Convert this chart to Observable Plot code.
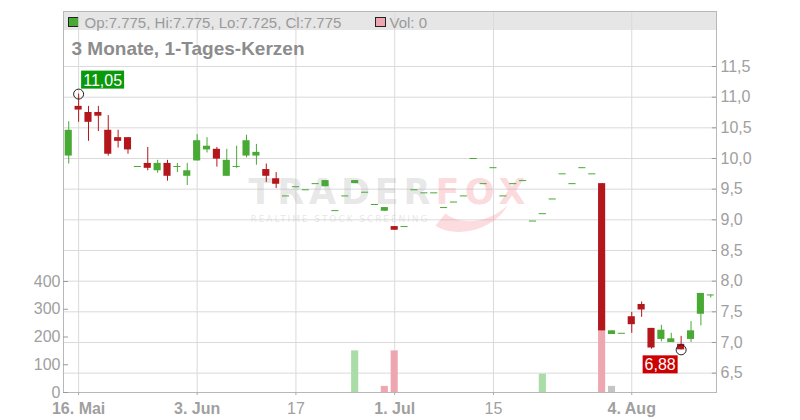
<!DOCTYPE html>
<html><head><meta charset="utf-8">
<script src="https://cdn.jsdelivr.net/npm/d3@7"></script>
<script src="https://cdn.jsdelivr.net/npm/@observablehq/plot@0.6"></script>
<style>
html,body{margin:0;padding:0;background:#fff;}
#wrap{position:relative;width:800px;height:420px;overflow:hidden;font-family:"Liberation Sans",Arial,sans-serif;}
#wrap svg{position:absolute;left:0;top:0;background:transparent;}
.abs{position:absolute;}
.sq{position:absolute;width:9px;height:8px;border:1px solid #222;top:17px;}
</style></head><body>
<div id="wrap">
  <div class="abs" style="left:63px;top:11px;width:653px;height:19px;background:#e6e6e6"></div>
  <div class="sq" style="left:68px;background:#48a935"></div>
  <div class="sq" style="left:375px;background:#eea7b0"></div>
</div>
<script>
// ---- data (one candle per trading day, index 0..65) ----
const openP = [10.04,10.85,10.75,10.75,10.46,10.34,10.34,9.87,9.92,9.80,
  9.92,9.87,9.71,9.96,10.14,10.15,9.71,9.87,10.04,10.04,
  9.82,9.67,9.39,9.54,9.49,9.59,9.54,9.15,9.39,9.59,
  9.45,9.25,9.14,8.89,8.89,9.49,9.44,9.44,9.20,9.29,
  9.39,10.00,9.59,9.85,9.39,9.59,9.64,8.98,9.10,9.34,
  9.75,9.59,9.85,9.75,9.59,7.13,7.15,7.42,7.62,7.23,
  7.05,7.00,6.97,7.05,7.46,7.775];
const highP = [10.60,11.05,10.85,10.85,10.70,10.46,10.34,9.87,10.18,9.97,
  9.97,9.92,9.92,10.39,10.34,10.18,10.15,10.20,10.38,10.23,
  9.91,9.77,9.39,9.54,9.49,9.59,9.64,9.15,9.39,9.64,
  9.45,9.25,9.20,8.89,8.89,9.49,9.44,9.44,9.20,9.29,
  9.39,10.00,9.59,9.85,9.39,9.59,9.64,8.98,9.10,9.34,
  9.75,9.59,9.85,9.75,9.59,7.19,7.15,7.49,7.66,7.23,
  7.28,7.15,7.10,7.34,7.80,7.775];
const lowP = [9.91,10.59,10.28,10.44,10.04,10.17,10.07,9.87,9.80,9.76,
  9.63,9.77,9.56,9.96,10.09,9.86,9.71,9.84,10.01,9.89,
  9.61,9.51,9.39,9.54,9.49,9.59,9.54,9.15,9.39,9.59,
  9.45,9.25,9.14,8.83,8.89,9.49,9.44,9.44,9.20,9.29,
  9.39,10.00,9.59,9.85,9.39,9.59,9.64,8.98,9.10,9.34,
  9.75,9.59,9.85,9.75,7.19,7.13,7.15,7.15,7.41,6.89,
  7.01,7.00,6.88,7.00,7.27,7.725];
const closeP = [10.46,10.79,10.59,10.69,10.07,10.28,10.14,9.87,9.84,9.92,
  9.71,9.87,9.80,10.29,10.20,9.99,9.97,9.87,10.29,10.10,
  9.71,9.58,9.39,9.54,9.49,9.59,9.64,9.15,9.39,9.64,
  9.45,9.25,9.20,8.83,8.89,9.49,9.44,9.44,9.20,9.29,
  9.39,10.00,9.59,9.85,9.39,9.59,9.64,8.98,9.10,9.34,
  9.75,9.59,9.85,9.75,7.19,7.19,7.15,7.29,7.53,6.91,
  7.20,7.06,6.88,7.19,7.80,7.775];
const volume = [0,0,0,0,0,0,0,0,0,0,
  0,0,0,0,0,0,0,0,0,0,
  0,0,0,0,0,0,0,0,0,150,
  0,0,22,150,0,0,0,0,0,0,
  0,0,0,0,0,0,0,0,66,0,
  0,0,0,0,500,22,0,0,0,0,
  0,0,0,0,0,0];
// x-axis ticks (trading-day index) and labels
const xTickIdx    = [1, 13, 23, 33, 43, 57];
const xTickLabels = ["16. Mai", "3. Jun", "17", "1. Jul", "15", "4. Aug"];
const xTickBold   = [true, true, false, true, false, true];
const priceTicks  = [6.5, 7.0, 7.5, 8.0, 8.5, 9.0, 9.5, 10.0, 10.5, 11.0, 11.5];
const volTicks    = [0, 100, 200, 300, 400];
const titleText   = "3 Monate, 1-Tages-Kerzen";

// ---- styles ----
const GREEN = "#48a935", RED = "#b3161b";
const VGREEN = "#a9dca7", VPINK = "#eea7b0", VGRAY = "#c4c4c4";
const GRID = "#dadada", AXIS = "#a0a0a0", FONT = "Liberation Sans, Arial, sans-serif";
const HW = 0.36;
const xDom = [-0.53, 65.58];
const yPriceDom = [6.1845, 12.397];
const yVolDom = [0, 1373];
const base = {width: 800, height: 420, marginLeft: 63, marginRight: 84, marginTop: 11, marginBottom: 28,
  style: {background: "transparent", fontFamily: FONT, fontSize: "16px"}};

const candles = openP.map((o, i) => ({i, open: o, high: highP[i], low: lowP[i], close: closeP[i],
  vol: volume[i], prev: i ? closeP[i - 1] : o}));
const candleColor = d => d.close >= d.open ? GREEN : RED;
const volColor = d => d.close > d.prev ? VGREEN : d.close < d.prev ? VPINK : VGRAY;
const last = candles[candles.length - 1];
const fmt3 = v => v.toFixed(3);
const maxC = candles.reduce((a, b) => b.high > a.high ? b : a);
const minC = candles.reduce((a, b) => b.low < a.low ? b : a);
const labelOf = i => xTickLabels[xTickIdx.indexOf(i)];
const comma = v => v.toFixed(1).replace(".", ",");

const ctx = document.createElement("canvas").getContext("2d");
ctx.font = "16px 'Liberation Sans'";
function tagMark(d, value, bg, above) {
  return (index, scales) => {
    const px = scales.x(d.i), py = scales.y(value);
    const label = value.toFixed(2).replace(".", ",");
    const w = Math.round(ctx.measureText(label).width) + 4, h = 18;
    const x0 = above ? px + 3 : px - 3 - w;
    const y0 = above ? py - 23 : py + 6;
    const g = d3.create("svg:g");
    g.append("rect").attr("x", x0).attr("y", y0).attr("width", w).attr("height", h).attr("fill", bg);
    g.append("text").attr("x", x0 + w / 2).attr("y", y0 + 15).attr("text-anchor", "middle")
      .attr("fill", "#fff").attr("font-size", 16).attr("font-family", FONT).text(label);
    return g.node();
  };
}
function watermark(index, scales) {
  const cx = (scales.x(xDom[0]) + scales.x(xDom[1])) / 2;
  const cy = (scales.y(yPriceDom[0]) + scales.y(yPriceDom[1])) / 2;
  const g = d3.create("svg:g").attr("text-anchor", "start");
  const t = (txt, x, y, size, len, fill, op, weight) => g.append("text")
    .attr("x", x).attr("y", y).attr("textLength", len).attr("lengthAdjust", "spacing")
    .attr("text-anchor", "start")
    .style("font-family", "'DejaVu Sans', sans-serif").style("font-size", size + "px").style("font-weight", weight)
    .attr("fill", fill).attr("fill-opacity", op).text(txt);
  t("TRADER", cx - 141, cy + 2, 35, 182, "#b0b0b0", 0.3, "bold");
  t("FOX", cx + 46, cy + 2, 35, 90, "#f48c96", 0.32, "bold");
  t("REALTIME STOCK SCREENING", cx - 139, cy + 20.5, 9, 177, "#b0b0b0", 0.3, "normal");
  g.append("path")
    .attr("d", `M${cx + 46},${cy + 24} C${cx + 62},${cy + 36} ${cx + 102},${cy + 32} ${cx + 118},${cy + 4} C${cx + 100},${cy + 21} ${cx + 72},${cy + 25} ${cx + 56},${cy + 12} Z`)
    .attr("fill", "#f48c96").attr("fill-opacity", 0.3);
  return g.node();
}

// Layer A: grid, frame, watermark, header texts
const plotA = Plot.plot({...base,
  x: {type: "linear", domain: xDom, axis: null},
  y: {type: "linear", domain: yPriceDom, axis: null},
  marks: [
    Plot.gridY(priceTicks, {stroke: GRID, strokeOpacity: 1}),
    Plot.gridX(xTickIdx, {stroke: GRID, strokeOpacity: 1}),
    watermark,
    Plot.frame({stroke: "#b8b8b8"}),
    Plot.text([titleText], {text: d => d, frameAnchor: "top-left", textAnchor: "start", lineAnchor: "bottom",
      dx: 8, dy: 43, fontSize: 19, fontWeight: "bold", fill: "#8c8c8c"}),
    Plot.text([`Op:${fmt3(last.open)}, Hi:${fmt3(last.high)}, Lo:${fmt3(last.low)}, Cl:${fmt3(last.close)}`],
      {text: d => d, frameAnchor: "top-left", textAnchor: "start", lineAnchor: "bottom", dx: 21, dy: 16.4, fontSize: 15, fill: "#9a9a9a"}),
    Plot.text([`Vol: ${last.vol}`], {text: d => d, frameAnchor: "top-left", textAnchor: "start", lineAnchor: "bottom",
      dx: 326, dy: 16.4, fontSize: 15, fill: "#9a9a9a"})
  ]
});

// Layer B: volume bars + left axis
const plotB = Plot.plot({...base,
  x: {type: "linear", domain: xDom, axis: null},
  y: {type: "linear", domain: yVolDom},
  color: {type: "identity"},
  marks: [
    Plot.rect(candles.filter(d => d.vol > 0), {x1: d => d.i - HW, x2: d => d.i + HW, y1: d => 0, y2: "vol", fill: volColor}),
    Plot.ruleY(volTicks, {y: d => d, x1: () => xDom[0], x2: () => xDom[0] + 0.5, stroke: "#999"}),
    Plot.axisY({anchor: "left", ticks: volTicks, tickSize: 0, tickPadding: 3, fontSize: 16, fill: AXIS, label: null, tickFormat: d => String(d)})
  ]
});

// Layer C: candles, right/bottom axes, extreme tags
const plotC = Plot.plot({...base,
  x: {type: "linear", domain: xDom},
  y: {type: "linear", domain: yPriceDom},
  color: {type: "identity"},
  marks: [
    Plot.ruleX(candles, {x: "i", y1: "low", y2: "high", stroke: candleColor, strokeWidth: 1}),
    Plot.rect(candles.filter(d => d.open !== d.close), {x1: d => d.i - HW, x2: d => d.i + HW, y1: "open", y2: "close", fill: candleColor}),
    Plot.ruleY(candles.filter(d => d.open === d.close), {y: "close", x1: d => d.i - HW, x2: d => d.i + HW, stroke: GREEN, strokeWidth: 1}),
    Plot.ruleY(priceTicks, {y: d => d, x1: () => xDom[1] - 0.42, x2: () => xDom[1], stroke: "#999"}),
    Plot.axisY({anchor: "right", ticks: priceTicks, tickSize: 0, tickPadding: 4, tickFormat: comma, fontSize: 16, fill: AXIS, label: null}),
    Plot.axisX({anchor: "bottom", ticks: xTickIdx.filter((t, k) => xTickBold[k]), tickFormat: labelOf, tickSize: 3, tickPadding: 7,
      fontSize: 16, fontWeight: "bold", fill: AXIS, stroke: "#aaa", label: null}),
    Plot.axisX({anchor: "bottom", ticks: xTickIdx.filter((t, k) => !xTickBold[k]), tickFormat: labelOf, tickSize: 3, tickPadding: 7,
      fontSize: 16, fill: AXIS, stroke: "#aaa", label: null}),
    Plot.dot([maxC], {x: "i", y: "high", r: 5, stroke: "#222", fill: "none", strokeWidth: 1}),
    Plot.dot([minC], {x: "i", y: "low", r: 5, stroke: "#222", fill: "none", strokeWidth: 1}),
    tagMark(maxC, maxC.high, "#0a990a", true),
    tagMark(minC, minC.low, "#cc0000", false)
  ]
});

const wrap = document.getElementById("wrap");
[plotA, plotB, plotC].forEach(p => wrap.appendChild(p));
</script>
</body></html>
